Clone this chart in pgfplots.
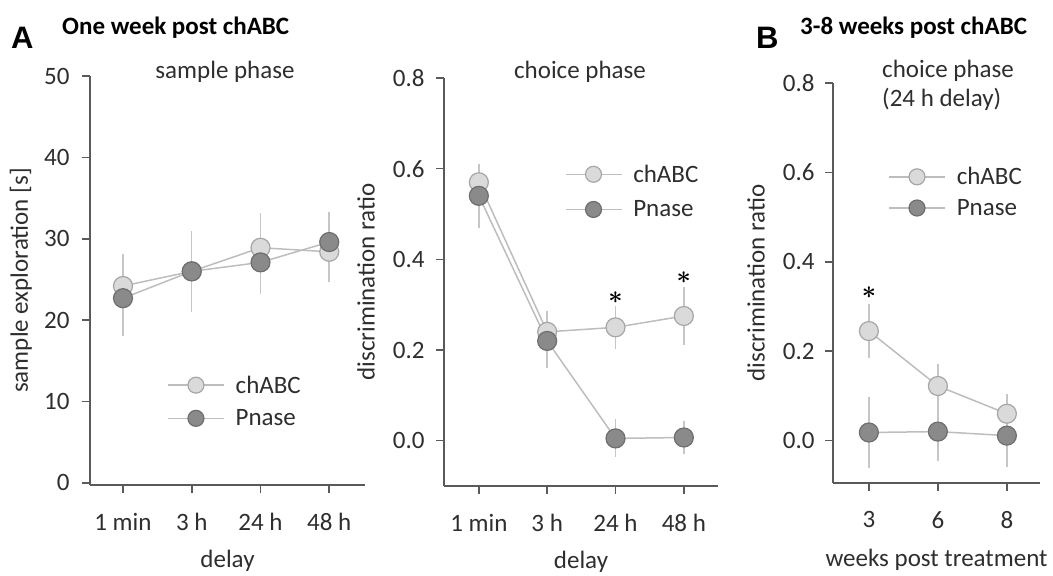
\documentclass[border=0pt]{standalone}
\usepackage{pgfplots}
\pgfplotsset{compat=1.18}
\usepackage{fontspec}
\setmainfont{Carlito}
\newfontfamily\arialbf{Liberation Sans}[BoldFont=* Bold]
\newcommand\fs{\fontsize{25bp}{29bp}\selectfont}
\definecolor{axisgrey}{HTML}{5A5A5A}
\definecolor{textgrey}{HTML}{2E2E2E}
\definecolor{linegrey}{HTML}{BDBDBD}
\definecolor{errgrey}{HTML}{C6C6C6}
\definecolor{chfill}{HTML}{DADADA}
\definecolor{chdraw}{HTML}{A6A6A6}
\definecolor{pnfill}{HTML}{8A8A8A}
\definecolor{pndraw}{HTML}{6E6E6E}
\tikzset{sigstar/.style={font=\fontsize{36bp}{36bp}\selectfont\boldmath, text=black, inner sep=0pt}}
\pgfplotsset{
  panel/.style={
    scale only axis, clip=false,
    axis x line*=bottom, axis y line*=left,
    axis line style={line width=1.6bp, color=axisgrey, -},
    tick align=outside, major tick length=8bp,
    tick style={line width=1.6bp, color=axisgrey},
    ticklabel style={font=\fs, text=textgrey},
    xticklabel style={yshift=-17bp},
    label style={font=\fs, text=textgrey},
    xlabel style={at={(axis description cs:0.5,0)}, anchor=base, yshift=-82bp},
    ylabel style={at={(axis description cs:#1,0.5)}, anchor=center},
    /pgf/number format/assume math mode=true,
    xtick={0,1,2,3},
    legend cell align=left,
    legend image code/.code={
      \draw[mark repeat=2,mark phase=2,##1, mark size=8bp] plot coordinates {(0bp,0bp) (28bp,0bp) (56bp,0bp)};},
    legend style={draw=none, fill=none, inner sep=0pt, row sep=9bp,
      font=\fs, text=textgrey, anchor=north west,
      nodes={inner sep=3bp},
      /tikz/every odd column/.append style={column sep=8bp}},
    error bars/y dir=both, error bars/y explicit,
    error bars/error mark=none,
    error bars/error bar style={line width=1.5bp, color=errgrey, solid},
  },
  ch/.style={color=linegrey, line width=1.5bp, mark=*, mark size=9.5bp,
    mark options={fill=chfill, draw=chdraw, line width=1.2bp}},
  pn/.style={color=linegrey, line width=1.5bp, mark=*, mark size=9.5bp,
    mark options={fill=pnfill, draw=pndraw, line width=1.2bp}},
}
\begin{document}
\begin{tikzpicture}[font=\fs]
\useasboundingbox (0,0) rectangle (1053bp,576bp);
% panel headings
\node[anchor=base west, inner sep=0pt, font=\arialbf\bfseries\fontsize{31bp}{31bp}\selectfont, text=black] at (11bp,527bp) {A};
\node[anchor=base west, inner sep=0pt, font=\bfseries\fs, text=black] at (62bp,541bp) {One week post chABC};
\node[anchor=base west, inner sep=0pt, font=\arialbf\bfseries\fontsize{31bp}{31bp}\selectfont, text=black] at (756bp,527bp) {B};
\node[anchor=base west, inner sep=0pt, font=\bfseries\fs, text=black] at (800bp,541bp) {3-8 weeks post chABC};
% sub-titles
\node[anchor=base, inner sep=0pt, text=textgrey] at (225bp,497bp) {sample phase};
\node[anchor=base, inner sep=0pt, text=textgrey] at (580bp,497bp) {choice phase};
\node[anchor=base west, inner sep=0pt, text=textgrey] at (882bp,498bp) {choice phase};
\node[anchor=base west, inner sep=0pt, text=textgrey] at (882bp,469bp) {(24 h delay)};

% ---------- A1 ----------
\begin{axis}[panel=-0.251, at={(90bp,91bp)}, anchor=south west,
  width=275bp, height=409bp,
  xmin=-0.48, xmax=3.52, ymin=-0.25, ymax=50,
  ytick={0,10,20,30,40,50},
  yticklabel style={xshift=-9bp},
  xticklabels={1 min, 3 h, 24 h, 48 h},
  xlabel={delay}, ylabel={sample exploration [s]},
  legend style={at={(0.28,0.275)}},
]
\addplot[ch] coordinates {(0,24.2) +- (0,3.9) (1,26.0) +- (0,5.0) (2,28.9) +- (0,4.3) (3,28.4) +- (0,3.7)};
\addplot[pn] coordinates {(0,22.7) +- (0,4.6) (1,26.0) +- (0,4.7) (2,27.1) +- (0,3.9) (3,29.6) +- (0,3.7)};
\legend{chABC, Pnase}
\end{axis}

% ---------- A2 ----------
\begin{axis}[panel=-0.285, at={(444bp,90bp)}, anchor=south west,
  width=274bp, height=408bp,
  xmin=-0.51, xmax=3.5, ymin=-0.10, ymax=0.8,
  ytick={0,0.2,0.4,0.6,0.8},
  yticklabel style={xshift=-8bp, /pgf/number format/.cd, fixed, fixed zerofill, precision=1},
  xticklabels={1 min, 3 h, 24 h, 48 h},
  xlabel={delay}, ylabel={discrimination ratio},
  legend style={at={(0.44,0.795)}, row sep=11bp},
]
\addplot[ch] coordinates {(0,0.57) +- (0,0.04) (1,0.24) +- (0,0.045) (2,0.25) +- (0,0.047) (3,0.275) +- (0,0.065)};
\addplot[pn] coordinates {(0,0.54) +- (0,0.07) (1,0.22) +- (0,0.06) (2,0.005) +- (0,0.042) (3,0.007) +- (0,0.037)};
\legend{chABC, Pnase}
\node[sigstar] at (axis cs:2,0.316) {$\ast$};
\node[sigstar] at (axis cs:3,0.36) {$\ast$};
\end{axis}

% ---------- B ----------
\begin{axis}[panel=-0.372, at={(833bp,93bp)}, anchor=south west,
  width=207bp, height=400bp,
  xmin=-0.52, xmax=2.48, ymin=-0.095, ymax=0.8,
  xtick={0,1,2}, xticklabels={3, 6, 8},
  ytick={0,0.2,0.4,0.6,0.8},
  yticklabel style={xshift=-7bp, /pgf/number format/.cd, fixed, fixed zerofill, precision=1},
  xlabel={weeks post treatment}, ylabel={discrimination ratio},
  xlabel style={yshift=-1bp},
  legend style={at={(0.266,0.797)}, row sep=7bp},
]
\addplot[ch] coordinates {(0,0.245) +- (0,0.06) (1,0.122) +- (0,0.05) (2,0.06) +- (0,0.045)};
\addplot[pn] coordinates {(0,0.018) +- (0,0.08) (1,0.02) +- (0,0.065) (2,0.011) +- (0,0.07)};
\legend{chABC, Pnase}
\node[sigstar] at (axis cs:0,0.33) {$\ast$};
\end{axis}
\end{tikzpicture}
\end{document}
